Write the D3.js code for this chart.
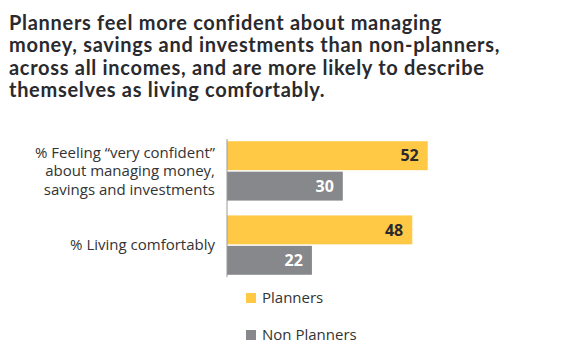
<!DOCTYPE html>
<html>
<head>
<meta charset="utf-8">
<script src="https://cdn.jsdelivr.net/npm/d3@7"></script>
<style>
  body { margin: 0; background: #fff; }
  svg { display: block; font-family: "Open Sans", sans-serif; }
</style>
</head>
<body>
<svg class="chart"></svg>
<script>
var titleLines = [
  "Planners feel more confident about managing",
  "money, savings and investments than non-planners,",
  "across all incomes, and are more likely to describe",
  "themselves as living comfortably."
];
var categories = [
  ["% Feeling \u201cvery confident\u201d", "about managing money,", "savings and investments"],
  ["% Living comfortably"]
];
var seriesNames = ["Planners", "Non Planners"];
var planners = [52, 48];
var nonPlanners = [30, 22];

var colors = ["#ffc845", "#87888b"];
var W = 565, H = 361;
var left = 227;

var svg = d3.select(".chart").attr("width", W).attr("height", H);

svg.append("g").selectAll("text")
  .data(titleLines)
  .join("text")
    .attr("x", 9)
    .attr("y", (d, i) => 30 + i * 22.4)
    .attr("font-family", "Lato, sans-serif")
    .attr("font-size", 20)
    .attr("letter-spacing", 0.7)
    .attr("font-weight", 700)
    .attr("fill", "#2a2a2e")
    .text(d => d);

var x = d3.scaleLinear().domain([0, 100]).range([0, 386]);
var y0 = d3.scaleBand().domain(d3.range(categories.length)).range([139, 277]).paddingInner(0.2).paddingOuter(0.03);
var y1 = d3.scaleBand().domain([0, 1]).range([0, y0.bandwidth()]).paddingInner(0.05);

var chart = svg.append("g").attr("transform", "translate(" + left + ",0)");

var groups = chart.selectAll(".grp")
  .data(categories.map((c, i) => ({label: c, values: [planners[i], nonPlanners[i]]})))
  .join("g")
    .attr("class", "grp")
    .attr("transform", (d, i) => "translate(0," + y0(i) + ")");

groups.selectAll("rect")
  .data(d => d.values)
  .join("rect")
    .attr("x", 0)
    .attr("y", (d, j) => y1(j))
    .attr("width", d => x(d))
    .attr("height", y1.bandwidth())
    .attr("fill", (d, j) => colors[j]);

groups.selectAll(".val")
  .data(d => d.values)
  .join("text")
    .attr("class", "val")
    .attr("x", d => x(d) - 9)
    .attr("y", (d, j) => y1(j) + y1.bandwidth() / 2)
    .attr("dy", "0.36em")
    .attr("text-anchor", "end")
    .attr("font-size", 16)
    .attr("font-weight", 700)
    .attr("fill", (d, j) => j == 0 ? "#2a2a2e" : "#fff")
    .text(d => d);

groups.each(function(d) {
  var n = d.label.length;
  var mid = y0.bandwidth() / 2;
  d3.select(this).selectAll(".lab")
    .data(d.label)
    .join("text")
      .attr("class", "lab")
      .attr("x", -12)
      .attr("y", (t, k) => mid + (k - (n - 1) / 2) * 18.5)
      .attr("dy", "0.35em")
      .attr("text-anchor", "end")
      .attr("font-size", 15)
      .attr("fill", "#333")
      .text(t => t);
});

chart.append("line")
  .attr("x1", 0).attr("x2", 0)
  .attr("y1", 139).attr("y2", 277)
  .attr("stroke", "#999")
  .attr("stroke-width", 1);

var legend = svg.append("g").selectAll("g")
  .data(seriesNames)
  .join("g")
    .attr("transform", (d, i) => "translate(246," + (293 + i * 37) + ")");

legend.append("rect")
  .attr("width", 10).attr("height", 10)
  .attr("fill", (d, i) => colors[i]);

legend.append("text")
  .attr("x", 16)
  .attr("y", 5)
  .attr("dy", "0.35em")
  .attr("font-size", 15)
  .attr("fill", "#333")
  .text(d => d);
</script>
</body>
</html>
